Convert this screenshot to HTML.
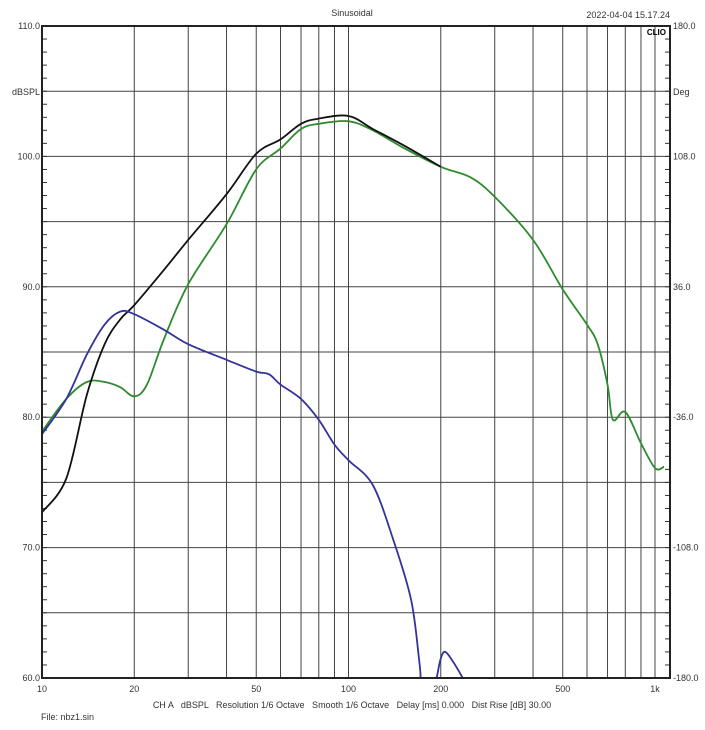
<!DOCTYPE html>
<html><head><meta charset="utf-8"><style>
body{margin:0;background:#fff;}
svg{display:block;font-family:"Liberation Sans",sans-serif;}
text{white-space:pre;}
</style></head><body>
<svg id="chart" width="705" height="730" viewBox="0 0 705 730">
<text x="352" y="16" font-size="9" text-anchor="middle" fill="#333">Sinusoidal</text>
<text x="670" y="18" font-size="9" text-anchor="end" fill="#333">2022-04-04 15.17.24</text>
<g id="grid"></g>
<g id="marks"></g>
<g id="axes"></g>
<text x="666" y="35" font-size="8" font-weight="bold" text-anchor="end" fill="#000">CLIO</text>
<text x="12" y="95" font-size="9" fill="#333">dBSPL</text>
<text x="673" y="95" font-size="9" fill="#333">Deg</text>
<text x="352" y="708" font-size="9" text-anchor="middle" fill="#333">CH A   dBSPL   Resolution 1/6 Octave   Smooth 1/6 Octave   Delay [ms] 0.000   Dist Rise [dB] 30.00</text>
<text x="41" y="720" font-size="9" fill="#333">File: nbz1.sin</text>
</svg>
<script>
const blackFreq=[10,12,14,16,18,20,25,30,40,50,60,70,80,100,120,150,200];
const blackDb=[72.7,75.3,81.7,85.6,87.5,88.6,91.3,93.6,97.1,100.2,101.3,102.5,102.9,103.1,102.1,100.9,99.2];
const greenFreq=[10,12,14,16,18,20,22,25,30,40,50,60,70,80,100,120,150,200,250,300,400,500,600,650,700,729,800,900,1000,1070];
const greenDb=[78.9,81.4,82.7,82.7,82.3,81.6,82.5,86.0,90.2,94.8,99.0,100.6,102.1,102.5,102.7,102.0,100.7,99.2,98.4,96.9,93.6,89.8,87.1,85.6,82.5,79.8,80.4,78.0,76.1,76.2];
const blueFreq=[10,12,14,16,18,20,25,30,40,50,55,60,70,80,90,100,120,140,160,170,172,194,200,207,220,236];
const blueDb=[78.7,81.4,84.8,87.1,88.1,87.9,86.7,85.6,84.4,83.5,83.3,82.5,81.4,79.8,77.9,76.7,74.8,70.6,66.0,61.4,60,60,61.5,62.0,61.2,60];
const blueBreakAfter=172;
const yTicksLeft=[60,70,80,90,100,110];
const yTicksRight=["-180.0","-108.0","-36.0","36.0","108.0","180.0"];
const xTickLabels=[10,20,50,100,200,500,1000];

const L=42,R=670,T=26,B=678;
const fMin=10,fMax=10*Math.pow(10,(R-L)/306.5);
const dbMin=60,dbMax=110;
function xs(f){return L+(R-L)*Math.log10(f/fMin)/Math.log10(fMax/fMin);}
function ys(d){return B-(B-T)*(d-dbMin)/(dbMax-dbMin);}
const NS="http://www.w3.org/2000/svg";
function mk(tag,attrs,parent){const e=document.createElementNS(NS,tag);for(const k in attrs)e.setAttribute(k,attrs[k]);parent.appendChild(e);return e;}
const grid=document.getElementById('grid'),marks=document.getElementById('marks'),axes=document.getElementById('axes');
[20,30,40,50,60,70,80,90,100,200,300,400,500,600,700,800,900,1000].forEach(f=>{
  const l=mk('line',{x1:xs(f),x2:xs(f),y1:T,y2:B,stroke:'#444','stroke-width':1},grid);
  
  
});
for(let d=65;d<110;d+=5){
  const l=mk('line',{x1:L,x2:R,y1:ys(d),y2:ys(d),stroke:'#444','stroke-width':1},grid);
  
  
}
for(let d=61;d<110;d++){
  mk('line',{x1:L,x2:L+5,y1:ys(d),y2:ys(d),stroke:'#333','stroke-width':1},grid);
  mk('line',{x1:R-5,x2:R,y1:ys(d),y2:ys(d),stroke:'#333','stroke-width':1},grid);
}
const border=mk('rect',{x:L,y:T,width:R-L,height:B-T,fill:'none',stroke:'#222','stroke-width':2},axes);


yTicksLeft.forEach((v,i)=>{
  const t=mk('text',{x:L-2,y:ys(v)+3,'font-size':9,'text-anchor':'end',fill:'#333'},axes);t.textContent=v.toFixed(1);
  
  
  const t2=mk('text',{x:R+3,y:ys(v)+3,'font-size':9,fill:'#333'},axes);t2.textContent=yTicksRight[i];
  
  
});
xTickLabels.forEach(f=>{
  const t=mk('text',{x:xs(f),y:B+14,'font-size':9,'text-anchor':'middle',fill:'#333'},axes);t.textContent=f>=1000?'1k':String(f);
  
  
});
function smooth(pts){
  if(!pts.length)return '';
  let s='M'+pts[0][0].toFixed(1)+','+pts[0][1].toFixed(1);
  for(let i=0;i<pts.length-1;i++){
    const p0=pts[i-1]||pts[i],p1=pts[i],p2=pts[i+1],p3=pts[i+2]||p2;
    const c1=[p1[0]+(p2[0]-p0[0])/6,p1[1]+(p2[1]-p0[1])/6];
    const c2=[p2[0]-(p3[0]-p1[0])/6,p2[1]-(p3[1]-p1[1])/6];
    s+='C'+c1[0].toFixed(1)+','+c1[1].toFixed(1)+' '+c2[0].toFixed(1)+','+c2[1].toFixed(1)+' '+p2[0].toFixed(1)+','+p2[1].toFixed(1);
  }
  return s;
}
function path(fr,db,breakAfter){
  const segs=[[]];
  for(let i=0;i<fr.length;i++){
    segs[segs.length-1].push([xs(fr[i]),ys(db[i])]);
    if(breakAfter!==undefined&&fr[i]===breakAfter)segs.push([]);
  }
  return segs.map(smooth).join('');
}
mk('clipPath',{id:'clip'},document.getElementById('chart'));
mk('rect',{x:L,y:T,width:R-L,height:B-T},document.getElementById('clip'));
marks.setAttribute('clip-path','url(#clip)');
const gp=mk('path',{d:path(greenFreq,greenDb),fill:'none',stroke:'#2e8b2e','stroke-width':1.8,'stroke-linejoin':'round'},marks);


const bp=mk('path',{d:path(blackFreq,blackDb),fill:'none',stroke:'#111','stroke-width':1.8,'stroke-linejoin':'round'},marks);


const up=mk('path',{d:path(blueFreq,blueDb,blueBreakAfter),fill:'none',stroke:'#33339a','stroke-width':1.8,'stroke-linejoin':'round'},marks);


</script>
</body></html>
